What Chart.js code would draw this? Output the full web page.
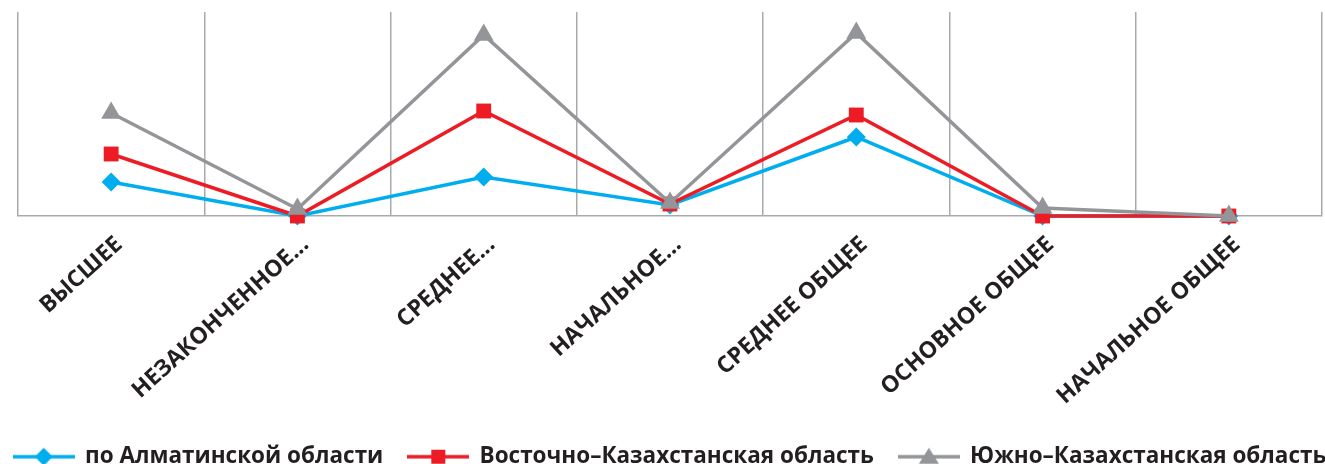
<!DOCTYPE html>
<html>
<head>
<meta charset="utf-8">
<script src="https://cdn.jsdelivr.net/npm/chart.js@4.4.1/dist/chart.umd.min.js"></script>
<style>
  html, body { margin: 0; padding: 0; background: #ffffff; overflow: hidden; }
  #wrap { width: 1380px; height: 478px; position: absolute; left: -20px; top: 0; }
</style>
</head>
<body>
<div id="wrap"><canvas id="c"></canvas></div>
<script>
const categories = ['ВЫСШЕЕ', 'НЕЗАКОНЧЕННОЕ...', 'СРЕДНЕЕ...', 'НАЧАЛЬНОЕ...', 'СРЕДНЕЕ ОБЩЕЕ', 'ОСНОВНОЕ ОБЩЕЕ', 'НАЧАЛЬНОЕ ОБЩЕЕ'];
const seriesNames = ['по Алматинской области', 'Восточно–Казахстанская область', 'Южно–Казахстанская область'];
const almaty = [34, 0, 39, 11, 79, 0, 0];
const vko = [62, 0, 105, 12, 101, 0, 0];
const yuko = [103, 7, 181, 13, 183, 8, 0];
const yMax = 204;

const BLUE = '#00aeef', RED = '#ed1c24', GRAY = '#939598', GRID = '#a7a9ac', TEXT = '#231f20';

function legendIcon(color, style) {
  const c = document.createElement('canvas');
  c.width = 62; c.height = 24;
  const g = c.getContext('2d');
  g.strokeStyle = color; g.lineWidth = 3.5;
  g.beginPath(); g.moveTo(0, 12); g.lineTo(62, 12); g.stroke();
  g.fillStyle = color;
  g.beginPath();
  if (style === 'rectRot') { g.moveTo(31, 3); g.lineTo(40, 12); g.lineTo(31, 21); g.lineTo(22, 12); }
  else if (style === 'rect') { g.rect(24, 5, 14, 14); }
  else { g.moveTo(31, 3); g.lineTo(41, 19); g.lineTo(21, 19); }
  g.closePath(); g.fill();
  return c;
}

const styles = [
  { color: BLUE, pointStyle: 'rectRot', radius: 9.5, order: 3 },
  { color: RED, pointStyle: 'rect', radius: 10.5, order: 2 },
  { color: GRAY, pointStyle: 'triangle', radius: 11.5, order: 1 }
];
const values = [almaty, vko, yuko];

const datasets = values.map((v, i) => ({
  label: seriesNames[i],
  data: v,
  yAxisID: 'y',
  borderColor: styles[i].color,
  backgroundColor: styles[i].color,
  pointBackgroundColor: styles[i].color,
  pointBorderColor: styles[i].color,
  pointBorderWidth: 0,
  borderWidth: 3.5,
  pointStyle: styles[i].pointStyle,
  pointRadius: styles[i].radius,
  pointHoverRadius: styles[i].radius,
  tension: 0,
  order: styles[i].order,
  clip: false
}));

new Chart(document.getElementById('c'), {
  type: 'line',
  data: { labels: categories, datasets },
  options: {
    responsive: true,
    maintainAspectRatio: false,
    animation: false,
    layout: { padding: { left: 0, right: 0, top: 12, bottom: 0 } },
    plugins: {
      tooltip: { enabled: false },
      legend: {
        position: 'bottom',
        align: 'center',
        labels: {
          usePointStyle: true,
          pointStyleWidth: 60,
          padding: 25,
          color: TEXT,
          font: { family: 'Open Sans', size: 22.5, weight: 'bold' },
          generateLabels: (chart) => chart.data.datasets.map((ds, i) => ({
            text: ds.label,
            fillStyle: ds.borderColor,
            strokeStyle: ds.borderColor,
            lineWidth: 0,
            pointStyle: legendIcon(ds.borderColor, styles[i].pointStyle),
            datasetIndex: i,
            fontColor: TEXT,
            hidden: false
          }))
        }
      }
    },
    scales: {
      x: {
        type: 'category',
        offset: true,
        grid: { display: true, offset: true, color: GRID, lineWidth: 1.5, drawTicks: false },
        border: { display: true, color: GRID, width: 1.5 },
        ticks: {
          autoSkip: false,
          maxRotation: 42,
          minRotation: 42,
          padding: 15,
          labelOffset: 8,
          color: TEXT,
          font: { family: 'Open Sans', size: 23, weight: 'bold' }
        },
        afterFit: (scale) => { scale.height = 204.5; }
      },
      y: {
        position: 'left',
        min: 0,
        max: yMax,
        grid: { display: false },
        border: { display: false },
        ticks: { display: false },
        afterFit: (scale) => { scale.width = 38; }
      },
      y2: {
        type: 'linear',
        position: 'right',
        min: 0,
        max: yMax,
        grid: { display: false },
        border: { display: false },
        ticks: { display: false },
        afterFit: (scale) => { scale.width = 38; }
      }
    }
  }
});
</script>
</body>
</html>
